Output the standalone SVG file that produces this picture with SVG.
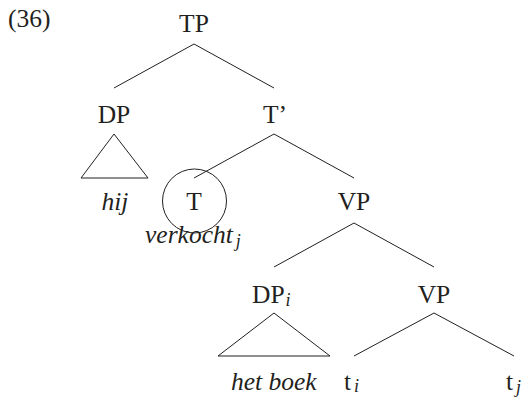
<svg xmlns="http://www.w3.org/2000/svg" width="522" height="398" viewBox="0 0 522 398">
  <style>
    text { font-family: "Liberation Serif", "DejaVu Serif", serif; font-size: 25.5px; fill: #231f20; text-anchor: middle; }
    .it { font-style: italic; }
    .sub { font-size: 18px; font-style: italic; }
    .edge { stroke: #231f20; stroke-width: 1; fill: none; }
  </style>
  <rect width="522" height="398" fill="#ffffff"/>

  <!-- example number -->
  <text id="label" x="8" y="27" style="text-anchor: start">(36)</text>

  <!-- connectors -->
  <g id="edges" class="edge">
    <line x1="194" y1="44" x2="114" y2="88"/>
    <line x1="194" y1="44" x2="274" y2="88"/>
    <line x1="274" y1="134" x2="194" y2="178"/>
    <line x1="274" y1="134" x2="354" y2="178"/>
    <line x1="354" y1="223" x2="274" y2="267"/>
    <line x1="354" y1="223" x2="434" y2="267"/>
    <line x1="434" y1="313" x2="354" y2="356"/>
    <line x1="434" y1="313" x2="514" y2="356"/>
    <!-- roof over DP subject -->
    <polygon points="114,134 81,178 148,178"/>
    <!-- roof over DP object -->
    <polygon points="274,313 218,356 330,356"/>
    <!-- circle around T -->
    <circle cx="194.5" cy="201" r="32"/>
  </g>

  <g id="n-TP"><text x="194" y="32">TP</text></g>
  <g id="n-DP"><text x="114" y="123">DP</text></g>
  <g id="n-Tbar"><text x="275" y="123">T’</text></g>
  <g id="n-hij"><text class="it" x="115" y="210">hij</text></g>
  <g id="n-T"><text x="194" y="210">T</text></g>
  <g id="n-verkocht"><text x="145" y="243" style="text-anchor: start"><tspan class="it">verkocht</tspan><tspan class="sub" dx="3" dy="4">j</tspan></text></g>
  <g id="n-VP1"><text x="354" y="210">VP</text></g>
  <g id="n-DPi"><text x="252" y="303" style="text-anchor: start">DP<tspan class="sub" dx="1" dy="3">i</tspan></text></g>
  <g id="n-VP2"><text x="434" y="303">VP</text></g>
  <g id="n-hetboek"><text class="it" x="231" y="390" style="text-anchor: start">het boek</text></g>
  <g id="n-ti"><text x="344" y="390" style="text-anchor: start">t<tspan class="sub" dx="3" dy="2">i</tspan></text></g>
  <g id="n-tj"><text x="506" y="390" style="text-anchor: start">t<tspan class="sub" dx="3" dy="3">j</tspan></text></g>
</svg>
